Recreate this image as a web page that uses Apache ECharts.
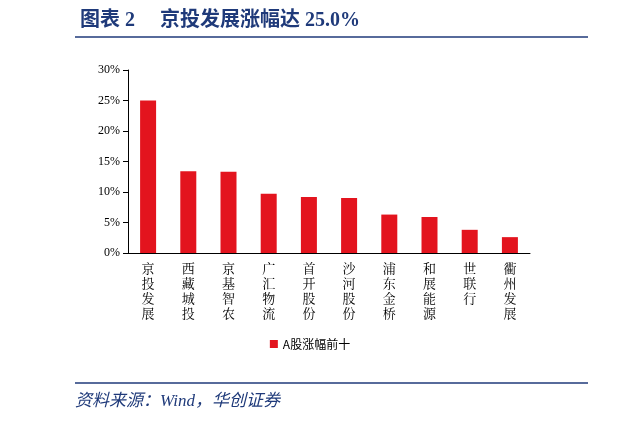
<!DOCTYPE html>
<html><head><meta charset="utf-8">
<script src="https://cdn.jsdelivr.net/npm/echarts@6/dist/echarts.min.js"></script>
<style>body{margin:0;background:#fff}#c{width:620px;height:423px}</style>
</head><body><div id="c"></div>
<script>
const categories=['京投发展','西藏城投','京基智农','广汇物流','首开股份','沙河股份','浦东金桥','和展能源','世联行','衢州发展'];
const values=[25.0,13.4,13.3,9.7,9.2,9.0,6.3,5.9,3.8,2.6];
const yTicks=[0,5,10,15,20,25,30];
const seriesName='A股涨幅前十';
const chart=echarts.init(document.getElementById('c'));
chart.setOption({
  animation:false,
  title:{text:'图表 2     京投发展涨幅达 25.0%',left:75,top:6,textStyle:{color:'#1F3A7A',fontSize:20,fontWeight:'bold',fontFamily:'Liberation Serif, Noto Sans CJK SC'}},
  graphic:[
    {type:'line',shape:{x1:75,y1:37,x2:588,y2:37},style:{stroke:'#1F3A7A',lineWidth:1.5}},
    {type:'line',shape:{x1:75,y1:383,x2:588,y2:383},style:{stroke:'#1F3A7A',lineWidth:1.5}},
    {type:'text',left:75,top:393,style:{text:'资料来源：Wind，华创证券',fill:'#1F3A7A',fontSize:17,fontStyle:'italic',fontFamily:'Liberation Serif, Noto Sans CJK SC'}}
  ],
  grid:{left:128,right:90,top:70,bottom:170},
  legend:{bottom:68,left:'center',itemWidth:8,itemHeight:8,icon:'rect',textStyle:{fontSize:12,color:'#000',fontFamily:'Noto Sans CJK SC'},data:[seriesName]},
  xAxis:{type:'category',data:categories,axisTick:{show:false},axisLine:{lineStyle:{color:'#000'}},
    axisLabel:{interval:0,color:'#000',fontSize:13,lineHeight:15,fontFamily:'Noto Serif CJK SC, Noto Sans CJK SC',formatter:v=>v.split('').join('\n')}},
  yAxis:{type:'value',min:0,max:30,interval:5,splitLine:{show:false},axisLine:{show:true,lineStyle:{color:'#000'}},axisTick:{show:true,inside:false},
    axisLabel:{color:'#000',fontSize:12,fontFamily:'Liberation Serif',formatter:v=>v+'%'}},
  series:[{name:seriesName,type:'bar',data:values,barWidth:16,itemStyle:{color:'#E3141E'}}]
});
</script></body></html>
